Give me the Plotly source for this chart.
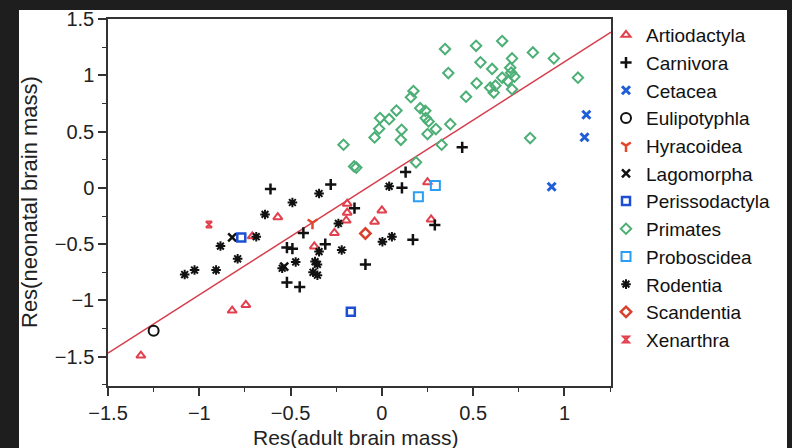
import plotly.graph_objects as go

# ---- data ----
art_x = [-1.32, -0.82, -0.745, -0.57, -0.71, -0.19, -0.19, -0.195, -0.26, -0.37, 0.0, -0.04, 0.25, 0.27]
art_y = [-1.49, -1.09, -1.04, -0.26, -0.43, -0.14, -0.22, -0.29, -0.40, -0.52, -0.20, -0.30, 0.05, -0.28]

car_x = [-0.61, -0.43, -0.52, -0.49, -0.52, -0.45, -0.28, -0.15, -0.31, -0.09, 0.11, 0.13, 0.17, 0.29, 0.44]
car_y = [-0.01, -0.40, -0.53, -0.54, -0.84, -0.88, 0.03, -0.18, -0.50, -0.68, 0.0, 0.14, -0.46, -0.33, 0.36]

cet_x = [1.12, 1.11, 0.93]
cet_y = [0.65, 0.45, 0.01]

eul_x = [-1.25]
eul_y = [-1.27]

hyr_x = [-0.38]
hyr_y = [-0.31]

lag_x = [-0.82, -0.535]
lag_y = [-0.44, -0.70]

per_x = [-0.77, -0.17]
per_y = [-0.44, -1.10]

pri_x = [0.346, 0.364, 0.173, 0.159, 0.461, 0.08, 0.21, 0.238, -0.01, 0.04, 0.24, 0.256,
         -0.015, 0.108, 0.296, 0.375, -0.04, 0.104, 0.25, 0.327, -0.21, -0.152, -0.14, 0.187,
         0.516, 0.659, 0.54, 0.713, 0.827, 0.942, 0.604, 0.703, 0.708, 0.659, 0.69, 0.726,
         0.519, 0.593, 0.622, 0.613, 0.713, 1.074, 0.812]
pri_y = [1.233, 1.02, 0.86, 0.805, 0.81, 0.687, 0.708, 0.684, 0.62, 0.61, 0.62, 0.59,
         0.525, 0.516, 0.522, 0.566, 0.448, 0.427, 0.478, 0.383, 0.383, 0.19, 0.18, 0.227,
         1.262, 1.304, 1.115, 1.15, 1.203, 1.15, 1.056, 1.067, 1.023, 0.979, 0.95, 0.988,
         0.929, 0.89, 0.908, 0.846, 0.876, 0.979, 0.442]

pro_x = [0.20, 0.293]
pro_y = [-0.08, 0.02]

rod_x = [-0.49, -0.64, -0.688, -0.884, -0.79, -1.08, -1.026, -0.908, -0.546, -0.472, -0.344,
         0.04, -0.238, -0.344, -0.22, -0.366, -0.353, -0.377, -0.353, 0.003, 0.055]
rod_y = [-0.13, -0.236, -0.434, -0.517, -0.63, -0.77, -0.73, -0.73, -0.714, -0.658, -0.05,
         0.014, -0.316, -0.566, -0.552, -0.655, -0.68, -0.75, -0.776, -0.478, -0.434]

sca_x = [-0.09]
sca_y = [-0.405]

xen_x = [-0.947]
xen_y = [-0.325]

FIT_INTERCEPT = 0.085
FIT_SLOPE = 1.035

X_RANGE = [-1.5, 1.255]
Y_RANGE = [-1.76, 1.5]
TICKS = [-1.5, -1, -0.5, 0, 0.5, 1, 1.5]
TICK_TEXT = ["\u22121.5", "\u22121", "\u22120.5", "0", "0.5", "1", "1.5"]

groups = [
    ("Artiodactyla", art_x, art_y, "triangle-up-open", "#e2404e", 8, 2),
    ("Carnivora", car_x, car_y, "cross-thin-open", "#111111", 8, 2.5),
    ("Cetacea", cet_x, cet_y, "x-thin-open", "#1f5ed6", 8, 3),
    ("Eulipotyphla", eul_x, eul_y, "circle-open", "#111111", 10, 2),
    ("Hyracoidea", hyr_x, hyr_y, "y-down-open", "#e2472e", 8, 2.5),
    ("Lagomorpha", lag_x, lag_y, "x-thin-open", "#111111", 8, 2.5),
    ("Perissodactyla", per_x, per_y, "square-open", "#1d4fd4", 8, 2.5),
    ("Primates", pri_x, pri_y, "diamond-open", "#4caf76", 8, 2),
    ("Proboscidea", pro_x, pro_y, "square-open", "#2a9ef2", 9, 2),
    ("Rodentia", rod_x, rod_y, "asterisk-open", "#111111", 8, 2),
    ("Scandentia", sca_x, sca_y, "diamond-open", "#d8402c", 8, 2.5),
    ("Xenarthra", xen_x, xen_y, "hourglass-open", "#e2404e", 6, 2),
]

fig = go.Figure()

# regression line
fig.add_trace(go.Scatter(
    x=X_RANGE,
    y=[FIT_INTERCEPT + FIT_SLOPE * v for v in X_RANGE],
    mode="lines", line=dict(color="#d63e4c", width=1.5),
    showlegend=False, hoverinfo="skip"))

for name, xs, ys, sym, col, size, lw in groups:
    fig.add_trace(go.Scatter(
        x=xs, y=ys, mode="markers", name=name,
        marker=dict(symbol=sym, color=col, size=size, line=dict(color=col, width=lw))))

L, R, T, B = 108, 181, 19, 62
PW, PH = 792 - L - R, 448 - T - B

axis_common = dict(
    showgrid=False, zeroline=False, showline=True, linecolor="#333333", linewidth=1.5,
    mirror=True, ticks="outside", ticklen=8, tickwidth=1.5, tickcolor="#333333",
    tickfont=dict(family="Liberation Sans, Arial", size=20, color="#222222"),
    tickvals=TICKS, ticktext=TICK_TEXT,
    minor=dict(ticks="outside", ticklen=4, tickwidth=1.2, tickcolor="#333333", dtick=0.25),
)

fig.update_layout(
    width=792, height=448,
    margin=dict(l=L, r=R, t=T, b=B, autoexpand=False),
    paper_bgcolor="#1e1e1e",
    plot_bgcolor="white",
    xaxis=dict(range=X_RANGE, **axis_common),
    yaxis=dict(range=Y_RANGE, **axis_common),
    legend=dict(
        x=(606 - L) / PW, xanchor="left", y=(448 - B - 16) / PH, yanchor="top",
        font=dict(family="Liberation Sans, Arial", size=19, color="#111111"),
        bgcolor="rgba(0,0,0,0)", borderwidth=0, itemsizing="trace",
        maxheight=440,
    ),
    shapes=[dict(
        type="rect", xref="paper", yref="paper", layer="below",
        x0=(19 - L) / PW, x1=(787 - L) / PW,
        y0=-(448 - (448 - B)) / PH - 0.01, y1=(448 - B - 10) / PH,
        fillcolor="white", line=dict(width=0))],
    annotations=[
        dict(text="Res(adult brain mass)", xref="paper", yref="paper",
             x=(355 - L) / PW, y=-(437 - (448 - B)) / PH, xanchor="center", yanchor="middle",
             showarrow=False, font=dict(family="Liberation Sans, Arial", size=21, color="#222222")),
        dict(text="Res(neonatal brain mass)", xref="paper", yref="paper",
             x=(29 - L) / PW, y=((448 - B) - 202) / PH, xanchor="center", yanchor="middle",
             textangle=-90, showarrow=False,
             font=dict(family="Liberation Sans, Arial", size=22, color="#222222")),
    ],
)

fig.write_html("out.html")
